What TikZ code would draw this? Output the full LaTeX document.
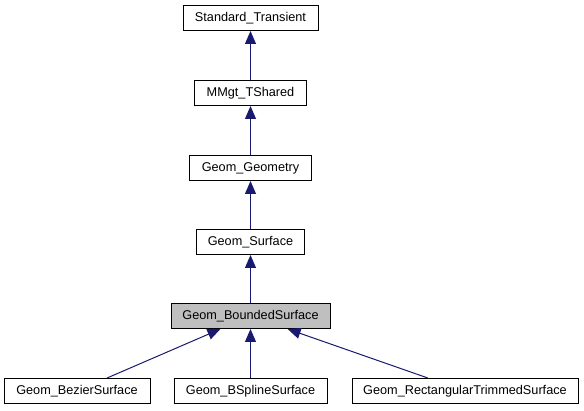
\documentclass[tikz,border=0pt]{standalone}
\usepackage{fontspec}
\setmainfont{Liberation Sans}
\usetikzlibrary{arrows.meta}
\definecolor{edgeblue}{RGB}{25,25,112}
\definecolor{hlgray}{RGB}{191,191,191}
\tikzset{
  cls/.style={draw=black, line width=1pt, fill=white, minimum height=25pt, inner sep=0pt, font=\fontsize{12.7pt}{14pt}\selectfont},
  cur/.style={cls, fill=hlgray},
  inh/.style={draw=edgeblue, line width=1pt, -{Triangle[length=13pt,width=11pt]}}
}
\begin{document}
\begin{tikzpicture}[x=1pt,y=-1pt]
\useasboundingbox (0,0) rectangle (584,411);
\node[cls, minimum width=135pt] (st) at (250.5,18) {Standard\_Transient};
\node[cls, minimum width=112pt] (mm) at (250.5,93) {MMgt\_TShared};
\node[cls, minimum width=122pt] (gg) at (250.5,168) {Geom\_Geometry};
\node[cls, minimum width=108pt] (gs) at (250.5,242) {Geom\_Surface};
\node[cur, minimum width=159pt] (bs) at (250.5,316) {Geom\_BoundedSurface};
\node[cls, minimum width=146pt] (bz) at (77,391) {Geom\_BezierSurface};
\node[cls, minimum width=153pt] (bp) at (250.5,391) {Geom\_BSplineSurface};
\node[cls, minimum width=226pt] (rt) at (465,391) {Geom\_RectangularTrimmedSurface};
\draw[inh] (mm) -- (st);
\draw[inh] (gg) -- (mm);
\draw[inh] (gs) -- (gg);
\draw[inh] (bs) -- (gs);
\draw[inh] (bz) -- (bs);
\draw[inh] (bp) -- (bs);
\draw[inh] (rt) -- (bs);
\end{tikzpicture}
\end{document}
